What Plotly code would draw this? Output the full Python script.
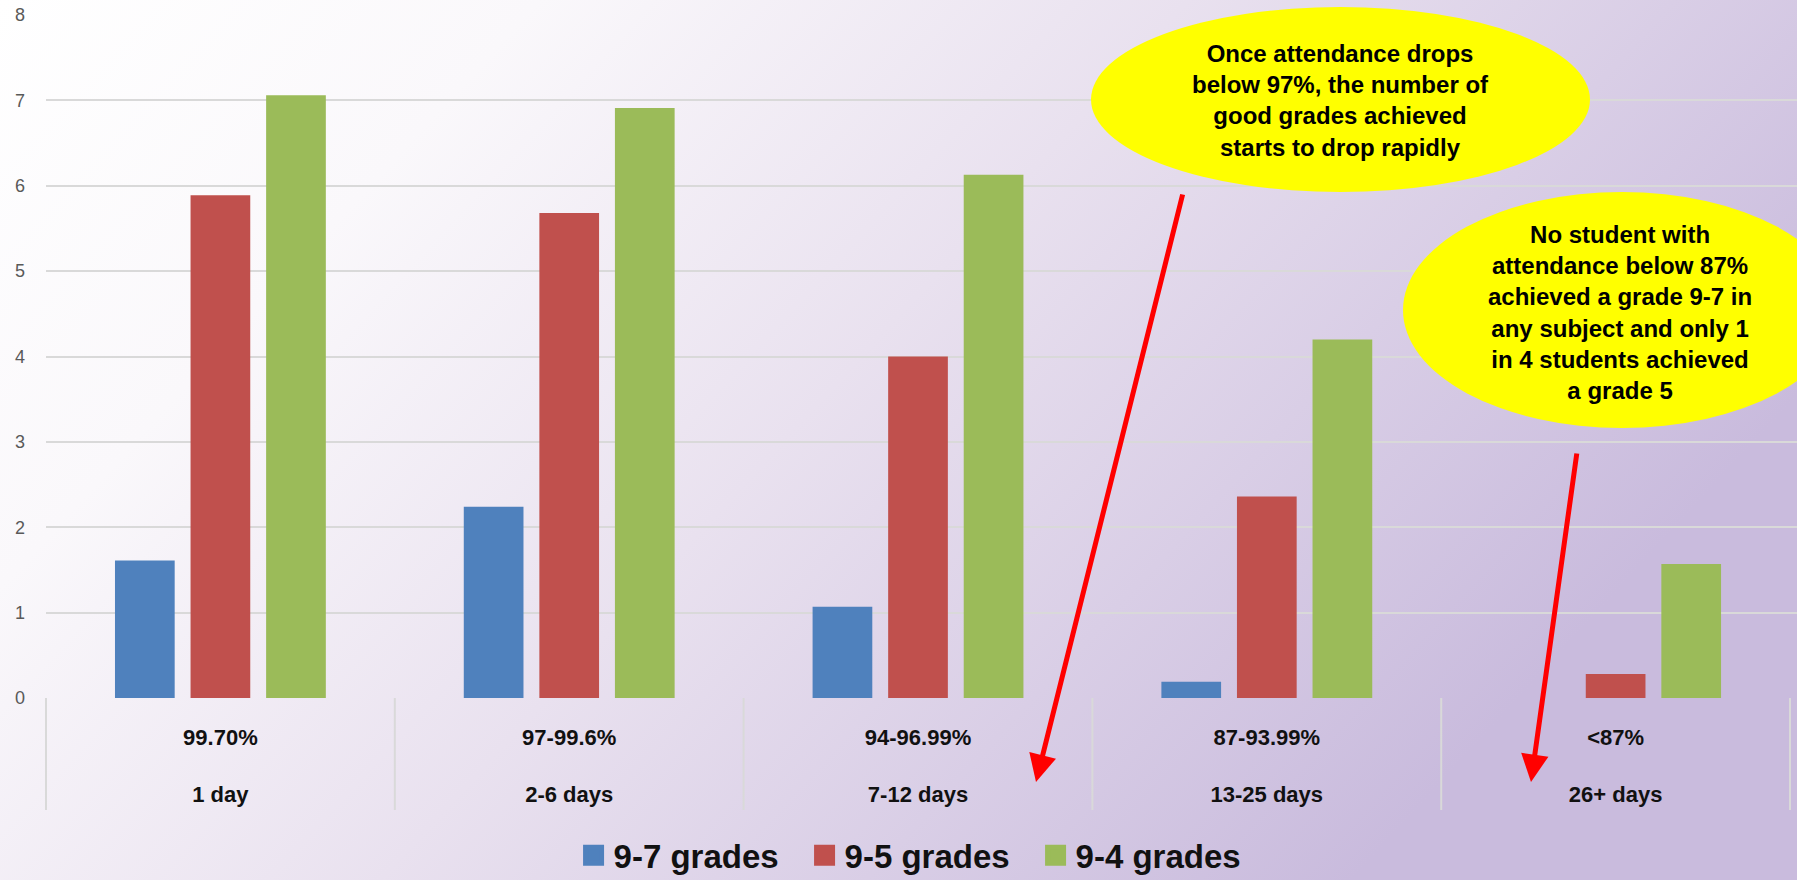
import base64
import plotly.graph_objects as go

# ---- data ----
pct_labels = ["99.70%", "97-99.6%", "94-96.99%", "87-93.99%", "<87%"]
day_labels = ["1 day", "2-6 days", "7-12 days", "13-25 days", "26+ days"]
series_names = ["9-7 grades", "9-5 grades", "9-4 grades"]
grades_97 = [1.61, 2.24, 1.07, 0.19, 0.0]
grades_95 = [5.89, 5.68, 4.00, 2.36, 0.28]
grades_94 = [7.06, 6.91, 6.13, 4.20, 1.57]
y_ticks = [0, 1, 2, 3, 4, 5, 6, 7, 8]

note1 = "Once attendance drops<br>below 97%, the number of<br>good grades achieved<br>starts to drop rapidly"
note2 = ("No student with<br>attendance below 87%<br>achieved a grade 9-7 in<br>"
         "any subject and only 1<br>in 4 students achieved<br>a grade 5")

colors = ["#4f81bd", "#c0504d", "#9bbb59"]
FONT = "Liberation Sans, Arial, sans-serif"

W, H = 1797, 880
ML, MR, MT, MB = 46, 0, 15, 182
PW, PH = W - ML - MR, H - MT - MB

categories = [f"<b>{p}</b><br><br><b>{d}</b>" for p, d in zip(pct_labels, day_labels)]

fig = go.Figure()
for name, vals, col in zip(series_names, [grades_97, grades_95, grades_94], colors):
    fig.add_trace(go.Bar(x=categories, y=vals, name=name, marker_color=col,
                         marker_line_width=0, showlegend=False, legendgroup=name))
    fig.add_trace(go.Scatter(x=[None], y=[None], mode="markers", name=name,
                             legendgroup=name,
                             marker=dict(symbol="square", size=16, color=col,
                                         line=dict(color=col, width=5))))

# background gradient
svg = f'''<svg xmlns="http://www.w3.org/2000/svg" width="{W}" height="{H}" viewBox="0 0 {W} {H}" preserveAspectRatio="none">
<defs><linearGradient id="g" x1="0" y1="0" x2="1" y2="0.45">
<stop offset="0" stop-color="#ffffff"/>
<stop offset="0.25" stop-color="#faf8fb"/>
<stop offset="0.55" stop-color="#e9e1ef"/>
<stop offset="1" stop-color="#c9bbdd"/>
</linearGradient></defs>
<rect x="0" y="0" width="{W}" height="{H}" fill="url(#g)"/></svg>'''
uri = "data:image/svg+xml;base64," + base64.b64encode(svg.encode()).decode()
fig.add_layout_image(dict(source=uri, xref="paper", yref="paper",
                          x=-ML / PW, y=1 + MT / PH, sizex=W / PW, sizey=H / PH,
                          xanchor="left", yanchor="top", sizing="stretch", layer="below"))

def px(xp):
    return (xp - ML) / PW

def py(yp):
    return (H - MB - yp) / PH

# category box dividers
for i in range(len(categories) + 1):
    fig.add_shape(type="line", xref="paper", yref="paper",
                  x0=i / 5.02, x1=i / 5.02, y0=0, y1=py(810),
                  line=dict(color="#d9d9d9", width=2))

# ellipses
fig.add_shape(type="circle", xref="paper", yref="paper",
              x0=px(1091), x1=px(1590), y0=py(192), y1=py(7),
              fillcolor="#ffff00", line=dict(width=0), layer="above")
fig.add_shape(type="circle", xref="paper", yref="paper",
              x0=px(1403), x1=px(1841), y0=py(428), y1=py(192),
              fillcolor="#ffff00", line=dict(width=0), layer="above")

fig.add_annotation(xref="paper", yref="paper", x=px(1340), y=py(101), text=f"<b>{note1}</b>",
                   xanchor="center", yanchor="middle",
                   showarrow=False, font=dict(family=FONT, size=24, color="#000000"), align="center")
fig.add_annotation(xref="paper", yref="paper", x=px(1620), y=py(312), text=f"<b>{note2}</b>",
                   xanchor="center", yanchor="middle",
                   showarrow=False, font=dict(family=FONT, size=24, color="#000000"), align="center")

# arrows
for tip, start in [((1036, 782), (1183, 193)), ((1531, 782), (1577, 452))]:
    fig.add_annotation(xref="paper", yref="paper", x=px(tip[0]), y=py(tip[1]), text="",
                       showarrow=True, arrowhead=2, arrowsize=1.1, arrowwidth=5,
                       arrowcolor="#ff0000", ax=start[0] - tip[0], ay=start[1] - tip[1],
                       standoff=0)

fig.update_layout(
    width=W, height=H,
    margin=dict(l=ML, r=MR, t=MT, b=MB, pad=0),
    paper_bgcolor="#ffffff", plot_bgcolor="rgba(0,0,0,0)",
    barmode="group", bargap=0.35, bargroupgap=0.21,
    font=dict(family=FONT, color="#000000"),
    showlegend=True,
    legend=dict(orientation="h", xref="container", yref="container",
                x=0.512, y=0.028, xanchor="center", yanchor="middle",
                entrywidth=186, entrywidthmode="pixels",
                font=dict(family=FONT, size=33, color="#111111", weight="bold"),
                bgcolor="rgba(0,0,0,0)", itemclick=False),
)
fig.update_xaxes(type="category", range=[-0.5, 4.52], showgrid=False, zeroline=False,
                 showline=False, ticks="", tickfont=dict(family=FONT, size=22, color="#111111"),
                 ticklabelstandoff=24, fixedrange=True)
fig.update_yaxes(range=[0, 8], tickvals=y_ticks, showgrid=True, gridcolor="#d9d9d9", gridwidth=2,
                 zeroline=False, showline=False, ticks="",
                 tickfont=dict(family=FONT, size=18, color="#595959"),
                 ticklabelstandoff=20, fixedrange=True)

fig.write_html("out.html")
